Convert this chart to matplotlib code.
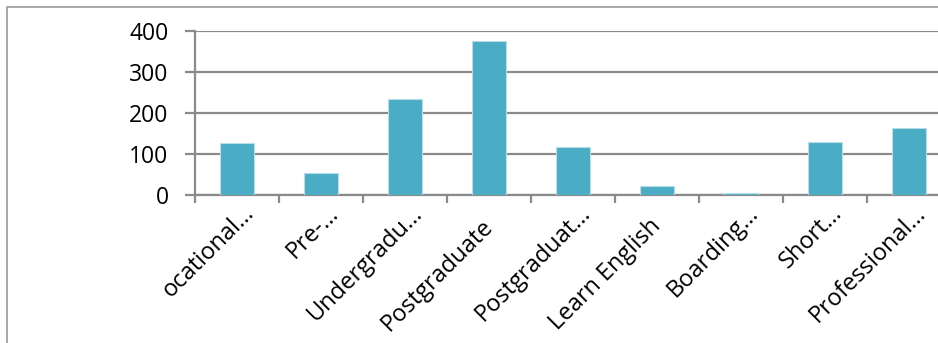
import matplotlib
matplotlib.use("Agg")
import matplotlib.pyplot as plt
from matplotlib.patches import Rectangle
from matplotlib.transforms import ScaledTranslation

categories = ["ocational…", "Pre-…", "Undergradu…", "Postgraduate", "Postgraduat…",
              "Learn English", "Boarding…", "Short…", "Professional…"]
values = [127, 54, 233, 376, 117, 22, 4, 129, 164]
yticks = [0, 100, 200, 300, 400]

plt.rcParams['font.family'] = ['Open Sans', 'DejaVu Sans']

W, H = 938, 343
DPI = 100
fig = plt.figure(figsize=(W / DPI, H / DPI), dpi=DPI)

# Axes area extends past the right edge of the canvas
x0, x1 = 195, 951
y0, y1 = 195, 31
ax = fig.add_axes([x0 / W, 1 - y0 / H, (x1 - x0) / W, (y0 - y1) / H])

grid_col = "#8a8a8a"
x = list(range(len(categories)))
ax.bar(x, values, width=0.4, color="#4BACC6", edgecolor="#b7dde8", linewidth=0.8, zorder=3)

ax.set_xlim(-0.5, len(categories) - 0.5)
ax.set_ylim(0, 400)
ax.set_yticks(yticks)
ax.set_yticklabels([str(v) for v in yticks], fontsize=16.5)
ax.yaxis.grid(True, color=grid_col, linewidth=1.6, zorder=0)
ax.set_axisbelow(True)

for s in ["top", "right"]:
    ax.spines[s].set_visible(False)
for s in ["left", "bottom"]:
    ax.spines[s].set_color(grid_col)
    ax.spines[s].set_linewidth(1.6)

ax.tick_params(axis="y", length=7, width=1.6, color=grid_col, pad=12)
ax.set_xticks([i - 0.5 for i in range(len(categories) + 1)])
ax.set_xticklabels([""] * (len(categories) + 1))
ax.tick_params(axis="x", length=6, width=1.6, color=grid_col, direction="out")

# Rotated category labels, anchored at the end of their baseline
for i, lab in enumerate(categories):
    if lab.endswith("…"):
        dx, dy = 18, -19
    else:
        dx, dy = 5, -32
    off = ScaledTranslation(dx / DPI, dy / DPI, fig.dpi_scale_trans)
    ax.text(i, 0, lab, rotation=45, ha="right", va="baseline", rotation_mode="anchor",
            fontsize=17, transform=ax.get_xaxis_transform() + off, color="#000000")

# Outer chart frame
fig.patches.append(Rectangle((7 / W, -0.1), 2.0, 1 - 7 / H + 0.1,
                             transform=fig.transFigure, fill=False,
                             edgecolor="#9a9a9a", linewidth=1.2))

fig.savefig("out.png", dpi=DPI)
